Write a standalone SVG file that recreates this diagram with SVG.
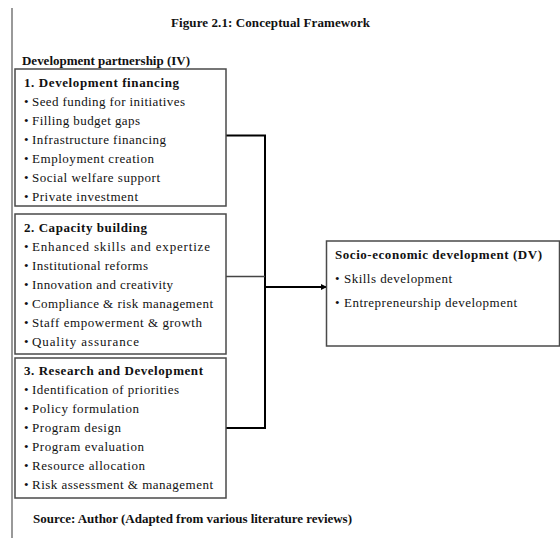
<svg xmlns="http://www.w3.org/2000/svg" width="560" height="539" viewBox="0 0 560 539">
<defs>
<style>
text{font-family:"Liberation Serif","Times New Roman",serif;font-size:13px;fill:#111}
.b{font-weight:bold}
.box{fill:#fff;stroke:#4a4a4a;stroke-width:1.5}
.con{fill:none;stroke:#000;stroke-width:2}
</style>
<marker id="arr" markerWidth="6" markerHeight="6" refX="5" refY="3" orient="auto" markerUnits="userSpaceOnUse">
<path d="M0,0 L6,3 L0,6 Z" fill="#000"/>
</marker>
</defs>
<rect width="560" height="539" fill="#fff"/>
<line x1="12" y1="8" x2="12" y2="538" stroke="#777" stroke-width="1.5"/>
<text class="b" x="171" y="27" textLength="199">Figure 2.1: Conceptual Framework</text>
<text class="b" x="22" y="65" textLength="168">Development partnership (IV)</text>

<g id="connectors">
<polyline class="con" points="226,135.5 265,135.5 265,428 226,428"/>
<line x1="226" y1="276.5" x2="265" y2="276.5" stroke="#444" stroke-width="1.5"/>
<line x1="265" y1="287" x2="326" y2="287" class="con" marker-end="url(#arr)"/>
</g>

<g id="node-financing">
<rect class="box" x="15" y="69" width="211" height="137"/>
<text class="b" x="24" y="87" textLength="155">1. Development financing</text>
<text x="24" y="106">•</text><text x="32" y="106" textLength="153">Seed funding for initiatives</text>
<text x="24" y="125">•</text><text x="32" y="125" textLength="108">Filling budget gaps</text>
<text x="24" y="144">•</text><text x="32" y="144" textLength="134">Infrastructure financing</text>
<text x="24" y="163">•</text><text x="32" y="163" textLength="122">Employment creation</text>
<text x="24" y="182">•</text><text x="32" y="182" textLength="128">Social welfare support</text>
<text x="24" y="201">•</text><text x="32" y="201" textLength="106">Private investment</text>
</g>

<g id="node-capacity">
<rect class="box" x="15" y="214" width="211" height="140"/>
<text class="b" x="24" y="232" textLength="123">2. Capacity building</text>
<text x="24" y="251">•</text><text x="32" y="251" textLength="178">Enhanced skills and expertize</text>
<text x="24" y="270">•</text><text x="32" y="270" textLength="116">Institutional reforms</text>
<text x="24" y="289">•</text><text x="32" y="289" textLength="141">Innovation and creativity</text>
<text x="24" y="308">•</text><text x="32" y="308" textLength="181">Compliance &amp; risk management</text>
<text x="24" y="327">•</text><text x="32" y="327" textLength="170">Staff empowerment &amp; growth</text>
<text x="24" y="346">•</text><text x="32" y="346" textLength="107">Quality assurance</text>
</g>

<g id="node-research">
<rect class="box" x="15" y="358" width="211" height="140"/>
<text class="b" x="24" y="375" textLength="179">3. Research and Development</text>
<text x="24" y="394">•</text><text x="32" y="394" textLength="147">Identification of priorities</text>
<text x="24" y="413">•</text><text x="32" y="413" textLength="107">Policy formulation</text>
<text x="24" y="432">•</text><text x="32" y="432" textLength="89">Program design</text>
<text x="24" y="451">•</text><text x="32" y="451" textLength="112">Program evaluation</text>
<text x="24" y="470">•</text><text x="32" y="470" textLength="113">Resource allocation</text>
<text x="24" y="489">•</text><text x="32" y="489" textLength="181">Risk assessment &amp; management</text>
</g>

<g id="node-dv">
<rect class="box" x="326.5" y="241" width="233" height="105"/>
<text class="b" x="335" y="259" textLength="207">Socio-economic development (DV)</text>
<text x="335" y="283">•</text><text x="344" y="283" textLength="108">Skills development</text>
<text x="335" y="307">•</text><text x="344" y="307" textLength="173">Entrepreneurship development</text>
</g>

<text class="b" x="33" y="523" textLength="319">Source: Author (Adapted from various literature reviews)</text>
</svg>
